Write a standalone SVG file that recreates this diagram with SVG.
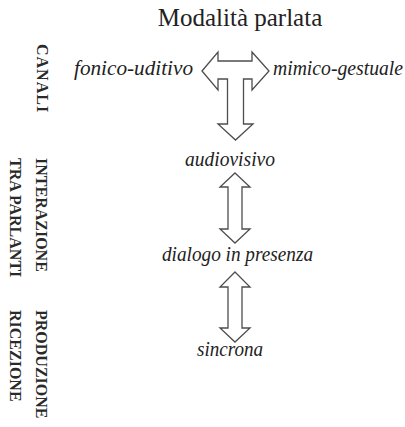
<svg xmlns="http://www.w3.org/2000/svg" width="405" height="427" viewBox="0 0 405 427">
<style>
.bg{fill:#ffffff}
.title{font-family:"Liberation Serif",serif;font-size:25px;fill:#222;text-anchor:middle}
.lbl{font-family:"Liberation Serif",serif;font-style:italic;font-size:20px;fill:#222}
.side{font-family:"Liberation Serif",serif;font-weight:bold;font-size:16px;fill:#2a2a2a}
.arrow{fill:#ffffff;stroke:#4d4d4d;stroke-width:1.3;stroke-linejoin:miter}
</style>
<rect class="bg" x="0" y="0" width="405" height="427"/>
<g id="title"><text class="title" x="240" y="26">Modalità parlata</text></g>
<g id="label-canali"><text class="side" transform="translate(37,44) rotate(90)" letter-spacing="1">CANALI</text></g>
<g id="label-interazione"><text class="side" transform="translate(36,158) rotate(90)">INTERAZIONE</text></g>
<g id="label-tra-parlanti"><text class="side" transform="translate(10,158) rotate(90)">TRA PARLANTI</text></g>
<g id="label-produzione"><text class="side" transform="translate(36,310) rotate(90)">PRODUZIONE</text></g>
<g id="label-ricezione"><text class="side" transform="translate(10,310) rotate(90)">RICEZIONE</text></g>
<g id="fonico-uditivo"><text class="lbl" x="74" y="75" textLength="119" lengthAdjust="spacingAndGlyphs">fonico-uditivo</text></g>
<g id="mimico-gestuale"><text class="lbl" x="273" y="75" textLength="130" lengthAdjust="spacingAndGlyphs">mimico-gestuale</text></g>
<g id="audiovisivo"><text class="lbl" x="185" y="166" textLength="90" lengthAdjust="spacingAndGlyphs">audiovisivo</text></g>
<g id="dialogo"><text class="lbl" x="162" y="261" textLength="151" lengthAdjust="spacingAndGlyphs">dialogo in presenza</text></g>
<g id="sincrona"><text class="lbl" x="197" y="356" textLength="66" lengthAdjust="spacingAndGlyphs">sincrona</text></g>
<g id="connectors">
<path class="arrow" d="M202,71 L218,52 L218,61 L252,61 L252,52 L269,71 L252,90 L252,79 L243.5,79 L243.5,124 L253,124 L235.5,140 L218,124 L227.5,124 L227.5,79 L218,79 L218,90 Z"/>
<path class="arrow" d="M235,173 L250,187 L242,187 L242,229 L250,229 L235,243 L220,229 L228,229 L228,187 L220,187 Z"/>
<path class="arrow" d="M235,272 L250,287 L242,287 L242,328 L250,328 L235,342 L220,328 L228,328 L228,287 L220,287 Z"/>
</g>
</svg>
